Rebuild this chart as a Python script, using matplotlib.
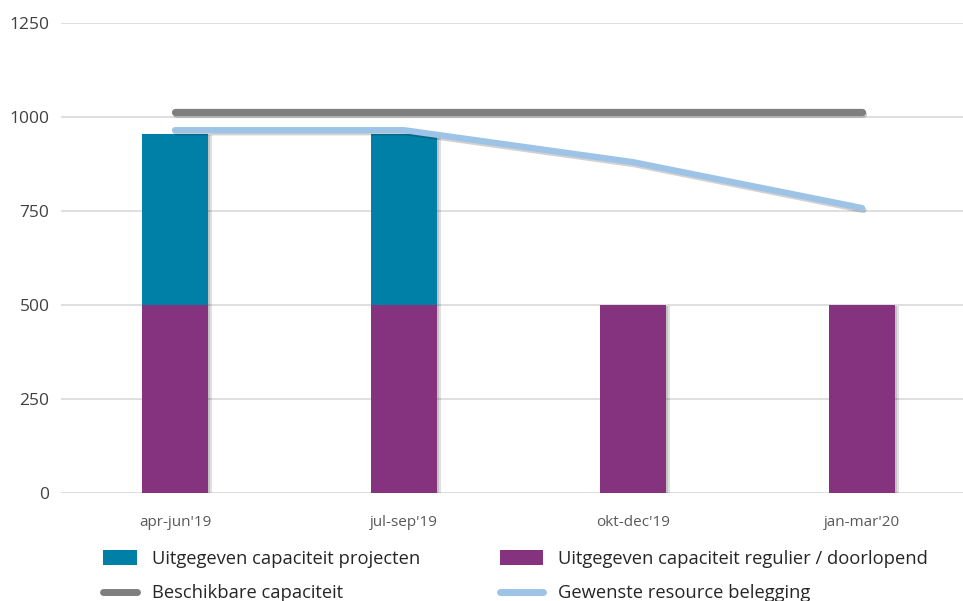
import matplotlib
matplotlib.use("Agg")
import matplotlib.pyplot as plt
import matplotlib.patheffects as pe
from matplotlib.patches import Patch
from matplotlib.lines import Line2D
import numpy as np

plt.rcParams['font.family'] = ['Open Sans', 'DejaVu Sans']

categories = ["apr-jun'19", "jul-sep'19", "okt-dec'19", "jan-mar'20"]
regulier = [500, 500, 500, 500]
projecten = [455, 455, 0, 0]
beschikbaar = [1013, 1013, 1013, 1013]
gewenst = [965, 965, 880, 758]
yticks = [0, 250, 500, 750, 1000, 1250]

labels = ["Uitgegeven capaciteit projecten", "Uitgegeven capaciteit regulier / doorlopend",
          "Beschikbare capaciteit", "Gewenste resource belegging"]

c_teal = "#0080a6"
c_purple = "#86337f"
c_gray = "#7f7f7f"
c_blue = "#9dc3e6"

W, H = 963, 601
fig = plt.figure(figsize=(W / 100, H / 100), dpi=100)
left_px, right_px = 60.5, 976.5
top_px, bot_px = 23, 493
ax = fig.add_axes([left_px / W, 1 - bot_px / H, (right_px - left_px) / W, (bot_px - top_px) / H])

x = np.arange(len(categories))
shadow = [pe.SimplePatchShadow(offset=(2.5, -1), alpha=0.12, shadow_rgbFace='black'),
          pe.SimplePatchShadow(offset=(1.2, -0.5), alpha=0.12, shadow_rgbFace='black'),
          pe.Normal()]
b2 = ax.bar(x, projecten, width=0.29, bottom=regulier, color=c_teal, zorder=3)
b1 = ax.bar(x, regulier, width=0.29, color=c_purple, zorder=3.5)
for b in list(b1) + list(b2):
    if b.get_height() > 0:
        b.set_path_effects(shadow)

lshadow = [pe.SimpleLineShadow(offset=(1, -1.5), alpha=0.18, shadow_color='black'), pe.Normal()]
ax.plot(x, beschikbaar, color=c_gray, lw=5.2, solid_capstyle='round', zorder=4, path_effects=lshadow)
ax.plot(x, gewenst, color=c_blue, lw=4.5, solid_capstyle='round', solid_joinstyle='round', zorder=4,
        path_effects=lshadow)

ax.set_xlim(-0.5, len(categories) - 0.5)
ax.set_ylim(0, 1250)
ax.set_yticks(yticks)
ax.set_yticklabels([str(v) for v in yticks], fontsize=12.5, color='#404040')
ax.set_xticks(x)
ax.set_xticklabels(categories, fontsize=11, color='#595959')
ax.tick_params(axis='both', length=0)
ax.tick_params(axis='y', pad=8)
ax.tick_params(axis='x', pad=16)
ax.grid(axis='y', color='#d9d9d9', lw=1.2, zorder=0)
for s in ax.spines.values():
    s.set_visible(False)

fs = 13.2
h1 = [Patch(facecolor=c_teal), Line2D([], [], color=c_gray, lw=5, solid_capstyle='round')]
h2 = [Patch(facecolor=c_purple), Line2D([], [], color=c_blue, lw=5, solid_capstyle='round')]
leg1 = fig.legend(h1, [labels[0], labels[2]], loc='upper left', bbox_to_anchor=(103 / W, 1 - 550 / H),
                  frameon=False, fontsize=fs, handlelength=1.85, handleheight=0.85, handletextpad=0.8,
                  labelspacing=0.9, borderpad=0, borderaxespad=0)
leg2 = fig.legend(h2, [labels[1], labels[3]], loc='upper left', bbox_to_anchor=(500 / W, 1 - 550 / H),
                  frameon=False, fontsize=fs, handlelength=2.35, handleheight=0.85, handletextpad=0.8,
                  labelspacing=0.9, borderpad=0, borderaxespad=0)
for leg in (leg1, leg2):
    for t in leg.get_texts():
        t.set_color('#262626')

fig.savefig("out.png", dpi=100)
